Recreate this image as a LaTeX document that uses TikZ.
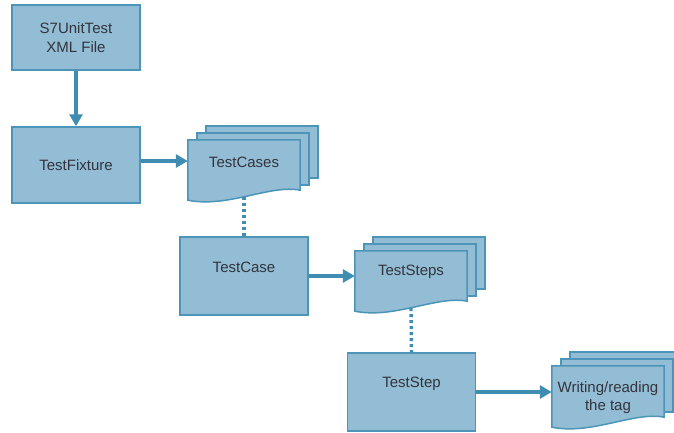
\documentclass[tikz,border=0pt]{standalone}
\usepackage{fontspec}
\setmainfont{Liberation Sans}
\usepackage{tikz}
\usetikzlibrary{arrows.meta,backgrounds}
\usepackage{xcolor}
\definecolor{myfill}{RGB}{147,189,212}
\definecolor{myedge}{RGB}{76,148,184}
\definecolor{myarrow}{RGB}{63,141,176}
\definecolor{mytext}{RGB}{50,52,62}
\tikzset{
  >={Triangle[length=12pt,width=13pt]},
  basic/.style={draw=myedge,fill=myfill,line width=1.5pt,text=mytext,
                font=\fontsize{15}{19}\selectfont,align=center},
  box/.style={basic,rectangle,minimum width=128pt,minimum height=76pt},
  docnode/.style={rectangle,minimum width=112pt,minimum height=60pt,inner sep=0pt},
  lbl/.style={text=mytext,font=\fontsize{15}{18}\selectfont,align=center},
  page/.style={draw=myedge,fill=myfill,line width=1.5pt},
  arr/.style={->,draw=myarrow,line width=3.4pt},
  dots/.style={draw=myarrow,line width=3.4pt,dash pattern=on 3pt off 3pt}
}
% stack of pages drawn behind a docnode
\newcommand{\docstack}[1]{%
  \begin{pgfonlayer}{background}
    \path[page] ([xshift=18pt,yshift=14pt]#1.north west) rectangle ([xshift=18pt,yshift=22pt]#1.south east);
    \path[page] ([xshift=9pt,yshift=7pt]#1.north west) rectangle ([xshift=9pt,yshift=15pt]#1.south east);
    \path[page] (#1.north west) -- (#1.north east) -- ([yshift=10pt]#1.south east)
      .. controls ([xshift=-30pt,yshift=16pt]#1.south east) and ([xshift=40pt,yshift=-8pt]#1.south west)
      .. (#1.south west) -- cycle;
  \end{pgfonlayer}}

\begin{document}
\begin{tikzpicture}[x=1pt,y=-1pt]
  \useasboundingbox (0,0) rectangle (674,432);
  \clip (0,0) rectangle (674,432);

  % left column boxes
  \node[box,minimum height=65pt] (xml) at (76,37.5) {S7UnitTest\\XML File};
  \node[box] (tfix) at (76,165) {TestFixture};
  \node[box,minimum height=78pt,label={[lbl,yshift=9pt]center:TestCase}] (tcase) at (244,276) {};
  \node[box,minimum height=78pt,label={[lbl,yshift=8pt]center:TestStep}] (tstep) at (411.5,392) {};

  % page stacks
  \node[docnode,label={[lbl,yshift=8pt]center:TestCases}] (tcases) at (244,170) {};
  \docstack{tcases}
  \node[docnode,label={[lbl,yshift=9pt]center:TestSteps}] (tsteps) at (411,281) {};
  \docstack{tsteps}
  \node[docnode,minimum height=61pt,label={[lbl,yshift=-1pt]center:Writing/reading\\the tag}] (tag) at (608,396.5) {};
  \docstack{tag}

  % connectors
  \draw[arr] (xml.south) -- (tfix.north);
  \draw[arr] ([yshift=4pt]tfix.east) -- ([yshift=4pt]tfix.east -| tcases.west);
  \draw[arr] (tcase.east) -- (tcase.east -| tsteps.west);
  \draw[arr] (tstep.east) -- (tstep.east -| tag.west);
  \draw[dots] ([yshift=3pt]tcases.south) -- (tcase.north);
  \draw[dots] ([yshift=3pt]tsteps.south) -- (tstep.north);
\end{tikzpicture}
\end{document}
